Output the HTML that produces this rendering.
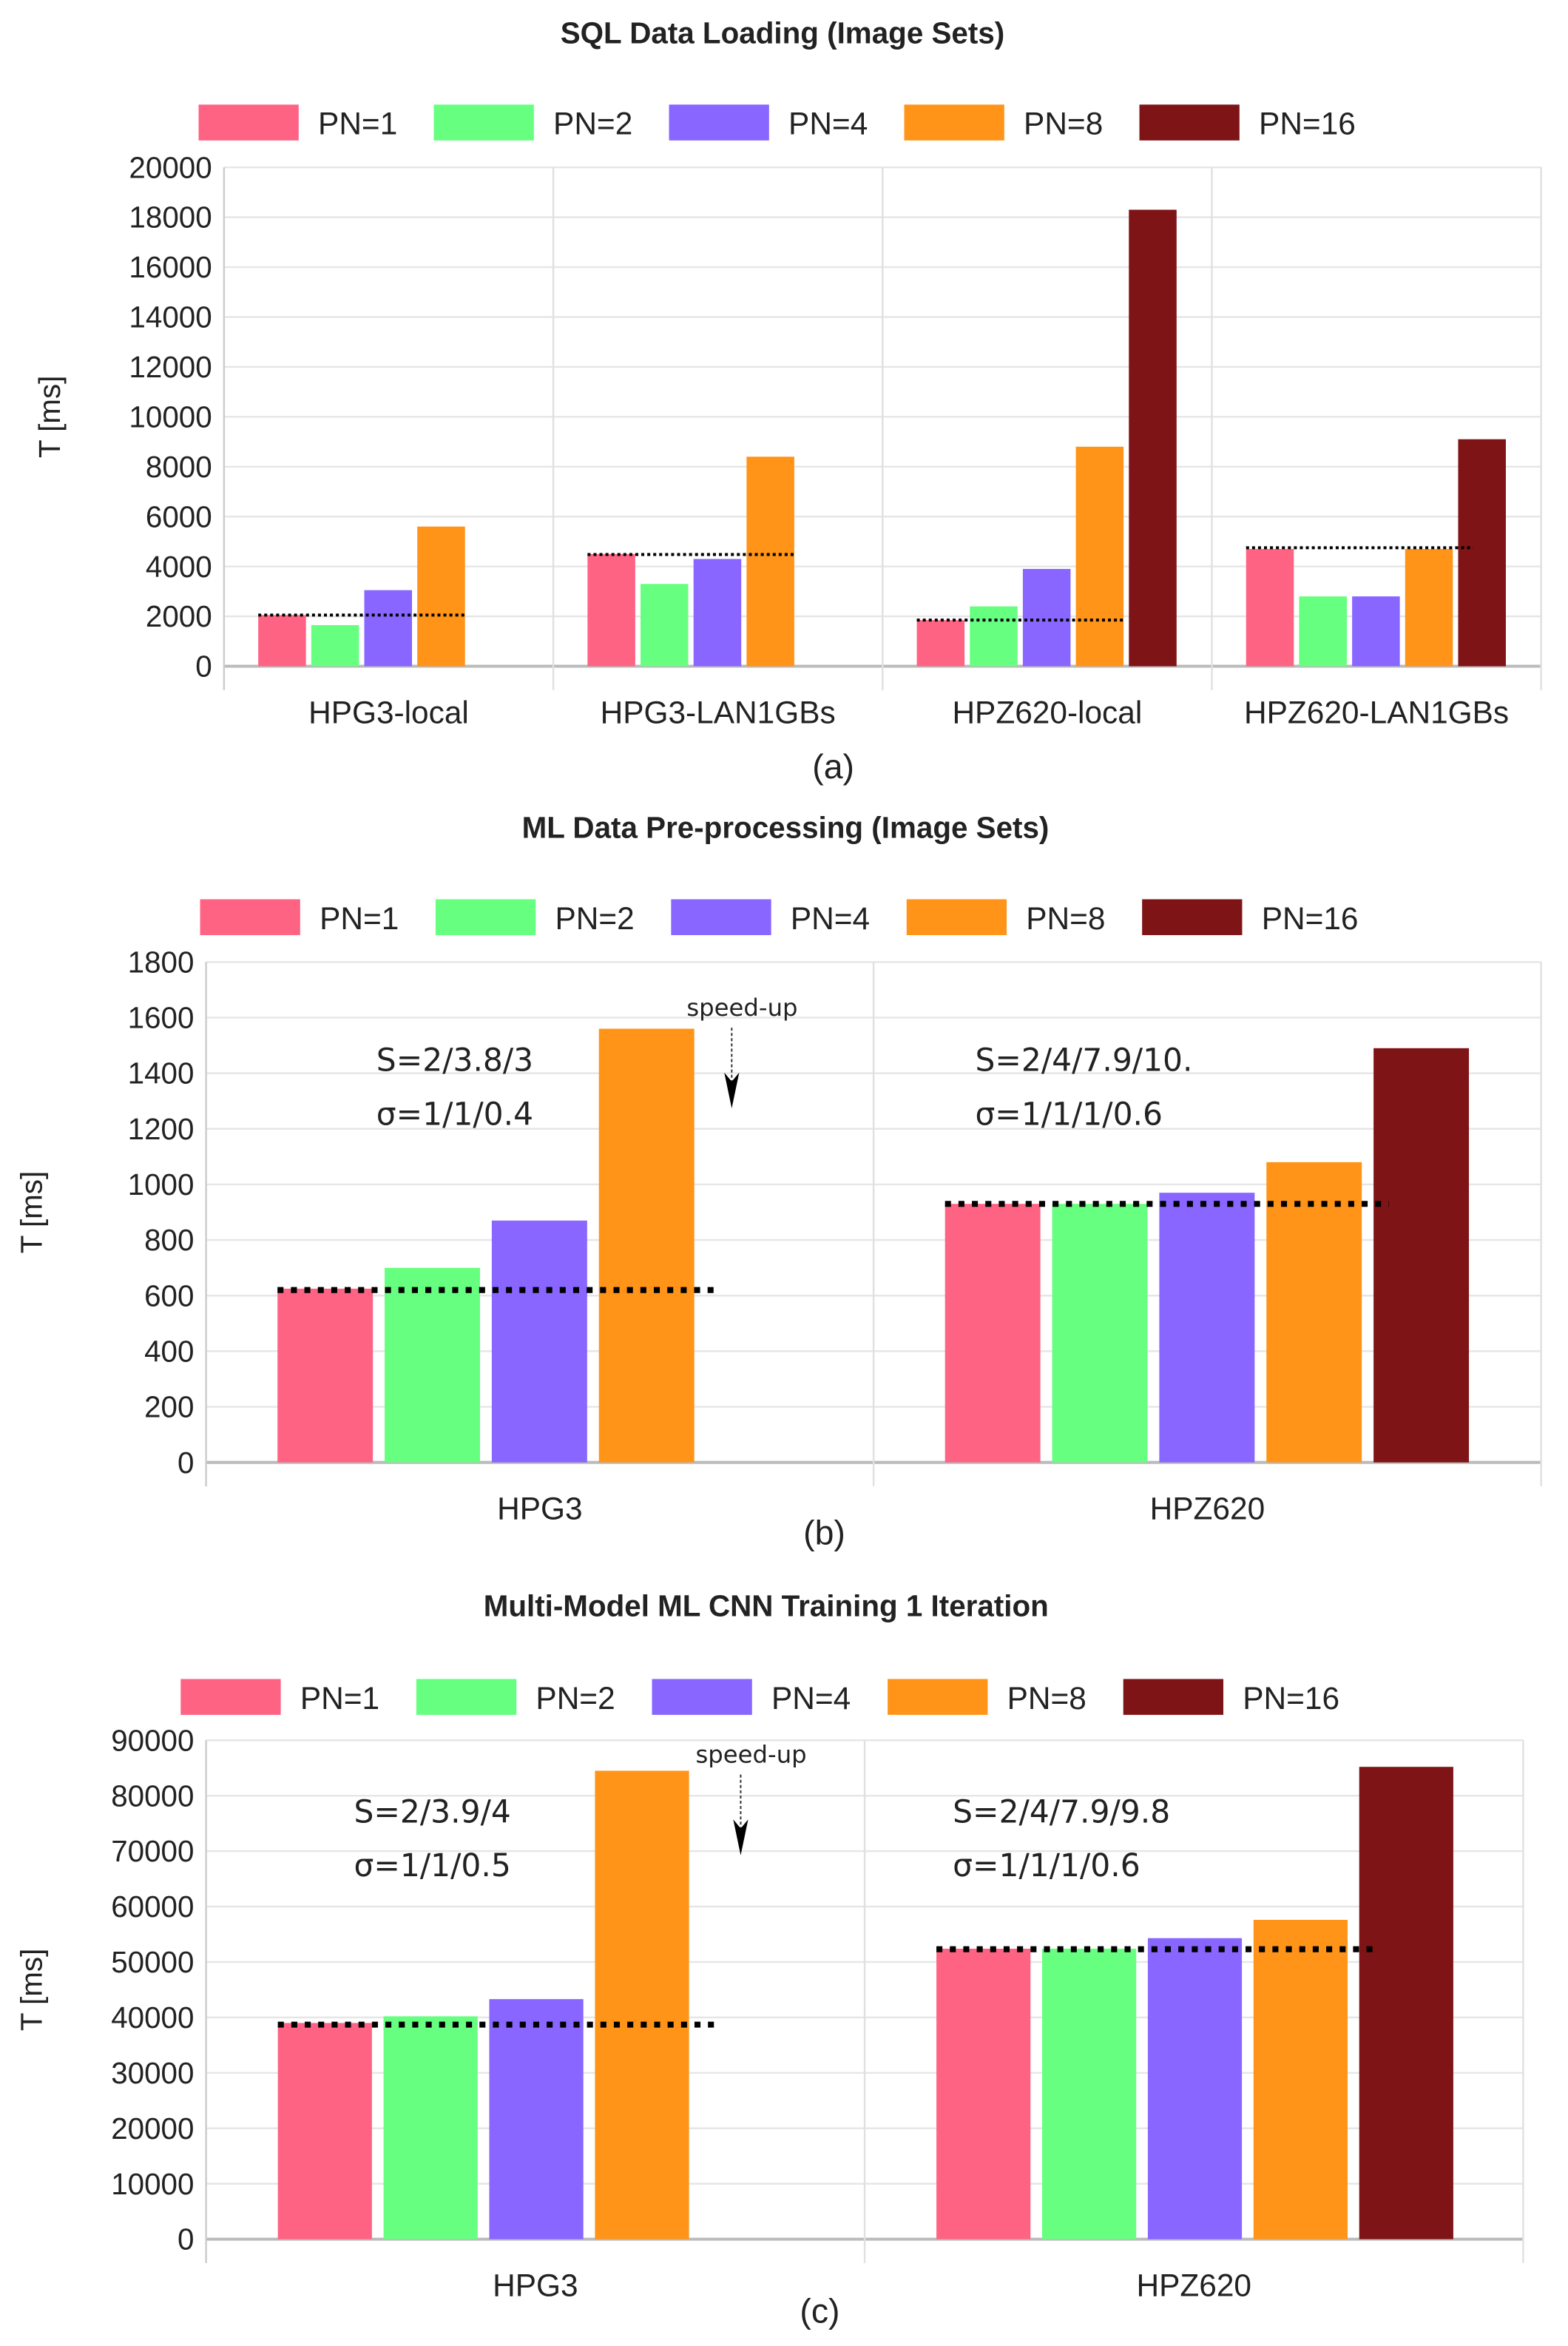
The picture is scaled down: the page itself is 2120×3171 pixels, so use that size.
<!DOCTYPE html>
<html><head><meta charset="utf-8">
<style>
html,body{margin:0;padding:0;background:#fff;}
svg{display:block;}
text{font-family:"Liberation Sans",sans-serif;fill:#222;}
.ann{font-family:"DejaVu Sans","Liberation Sans",sans-serif;}
</style></head>
<body>
<svg id="fig" width="2120" height="3171" viewBox="0 0 1050 1570.5" xmlns="http://www.w3.org/2000/svg"></svg>
<script>
// ---- data ----
const seriesNames = ["PN=1","PN=2","PN=4","PN=8","PN=16"];
const seriesColors = ["#ff6384","#66ff80","#8866ff","#ff9418","#7f1416"];

const catsA = ["HPG3-local","HPG3-LAN1GBs","HPZ620-local","HPZ620-LAN1GBs"];
const valsA = [[2050,1650,3050,5600,null],[4500,3300,4300,8400,null],[1850,2400,3900,8800,18300],[4700,2800,2800,4700,9100]];
const refA = [2050,4480,1850,4750];
const ticksA = [0,2000,4000,6000,8000,10000,12000,14000,16000,18000,20000];

const catsB = ["HPG3","HPZ620"];
const valsB = [[625,700,870,1560,null],[930,930,970,1080,1490]];
const refB = [620,930];
const ticksB = [0,200,400,600,800,1000,1200,1400,1600,1800];
const annB = [["S=2/3.8/3","σ=1/1/0.4"],["S=2/4/7.9/10.","σ=1/1/1/0.6"]];

const catsC = ["HPG3","HPZ620"];
const valsC = [[39000,40200,43300,84500,null],[52400,52400,54300,57600,85200]];
const refC = [38700,52300];
const ticksC = [0,10000,20000,30000,40000,50000,60000,70000,80000,90000];
const annC = [["S=2/3.9/4","σ=1/1/0.5"],["S=2/4/7.9/9.8","σ=1/1/1/0.6"]];

const NS="http://www.w3.org/2000/svg";
const svg=document.getElementById('fig');
function mk(tag,attrs,parent,txt){const e=document.createElementNS(NS,tag);for(const k in attrs)e.setAttribute(k,attrs[k]);if(txt!==undefined)e.textContent=txt;(parent||svg).appendChild(e);return e;}

function drawChart(L,cats,vals,refs,ticks,ann){
  const g=mk('g',{});
  
  
  const t=mk('text',{x:L.titleX,y:L.titleY,'text-anchor':'middle','font-size':20,'font-weight':'bold'},g,L.title);
  
  
  for(let i=0;i<seriesNames.length;i++){
    const lx=L.legX+i*L.legStep;
    const le=mk('g',{},g);
    
    
    mk('rect',{x:lx,y:L.legY-12,width:67,height:24,fill:seriesColors[i]},le);
    mk('text',{x:lx+80,y:L.legY+8,'font-size':21},le,seriesNames[i]);
  }
  const max=ticks[ticks.length-1];
  const y=v=>L.y0-(v/max)*(L.y0-L.yTop);
  const gw=(L.right-L.left)/cats.length;
  ticks.forEach(tv=>{
    mk('line',{x1:L.left,x2:L.right,y1:y(tv),y2:y(tv),stroke:tv===0?'#bbb':'#e6e6e6','stroke-width':tv===0?2:1.2},g);
    const tl=mk('text',{x:L.left-8,y:y(tv)+7,'text-anchor':'end','font-size':20},g,String(tv));
    
    
  });
  for(let c=0;c<=cats.length;c++){
    const gx=L.left+c*gw;
    mk('line',{x1:gx,x2:gx,y1:L.yTop,y2:L.y0+16,stroke:c===0?'#ccc':'#e0e0e0','stroke-width':1.2},g);
  }
  const yt=mk('text',{x:0,y:0,'font-size':20,transform:`translate(${L.left-110},${(L.yTop+L.y0)/2}) rotate(-90)`,'text-anchor':'middle'},g,'T [ms]');
  
  
  cats.forEach((cat,c)=>{
    const gx=L.left+c*gw;
    const pad=gw*L.padFrac;
    const slot=gw*L.slotFrac;
    vals[c].forEach((v,s)=>{
      if(v==null)return;
      const b=mk('rect',{x:gx+pad+s*slot,y:y(v),width:slot*L.barFrac,height:L.y0-y(v),fill:seriesColors[s]},g);
      
      
    });
    const x1=gx+pad, x2=gx+pad+L.refLen[c]*gw;
    const rl=mk('line',{x1:x1,x2:x2,y1:y(refs[c]),y2:y(refs[c]),stroke:'#000','stroke-width':L.dotW,'stroke-dasharray':L.dash},g);
    
    
    const cl=mk('text',{x:gx+gw/2,y:L.y0+38,'text-anchor':'middle','font-size':21},g,cat);
    
    
    if(ann){
      const ax=gx+L.annDx[c];
      mk('text',{x:ax,y:L.annY,'font-size':21,class:'ann'},g,ann[c][0]);
      mk('text',{x:ax,y:L.annY+36,'font-size':21,class:'ann'},g,ann[c][1]);
    }
  });
  if(L.speed){
    const sp=mk('text',{x:L.speed[0],y:L.speed[1],'text-anchor':'middle','font-size':16,class:'ann'},g,'speed-up');
    
    
    mk('line',{x1:L.speed[0]-7,x2:L.speed[0]-7,y1:L.speed[1]+8,y2:L.speed[1]+48,stroke:'#333','stroke-width':1,'stroke-dasharray':'2,1.5'},g);
    mk('path',{d:`M${L.speed[0]-12},${L.speed[1]+38} L${L.speed[0]-7},${L.speed[1]+62} L${L.speed[0]-2},${L.speed[1]+38} L${L.speed[0]-7},${L.speed[1]+44} Z`,fill:'#000'},g);
  }
  const sub=mk('text',{x:L.subX,y:L.subY,'text-anchor':'middle','font-size':23},g,L.sub);
  
  
}

drawChart({id:'chart-a-sql-loading',title:'SQL Data Loading (Image Sets)',titleX:524,titleY:29,legX:133,legStep:157.5,legY:82,
  left:150,right:1032,yTop:112,y0:446,padFrac:0.104,slotFrac:0.161,barFrac:0.9,refLen:[0.63,0.63,0.63,0.69],dotW:2,dash:'2,2',sub:'(a)',subX:558,subY:521},
  catsA,valsA,refA,ticksA,null);
drawChart({id:'chart-b-ml-preprocessing',title:'ML Data Pre-processing (Image Sets)',titleX:526,titleY:561,legX:134,legStep:157.7,legY:614,
  left:138,right:1032,yTop:644,y0:979,padFrac:0.107,slotFrac:0.1605,barFrac:0.89,refLen:[0.658,0.665],dotW:4,dash:'4,5',annDx:[114,68],annY:717,speed:[497,680],sub:'(b)',subX:552,subY:1034},
  catsB,valsB,refB,ticksB,annB);
drawChart({id:'chart-c-cnn-training',title:'Multi-Model ML CNN Training 1 Iteration',titleX:513,titleY:1082,legX:121,legStep:157.8,legY:1136,
  left:138,right:1020,yTop:1165,y0:1499,padFrac:0.109,slotFrac:0.1605,barFrac:0.89,refLen:[0.667,0.665],dotW:4,dash:'4,5',annDx:[99,59],annY:1220,speed:[503,1180],sub:'(c)',subX:549,subY:1555},
  catsC,valsC,refC,ticksC,annC);
</script>
</body></html>
